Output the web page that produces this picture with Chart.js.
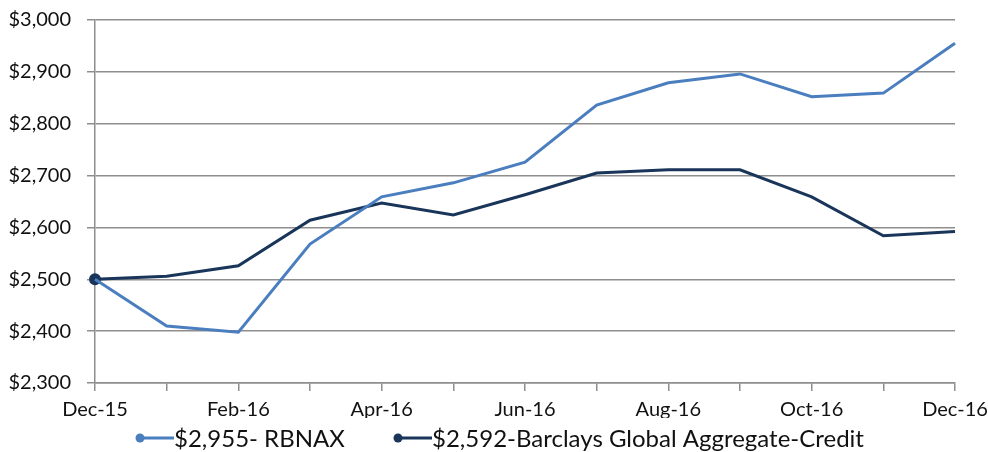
<!DOCTYPE html>
<html>
<head>
<meta charset="utf-8">
<script src="https://cdn.jsdelivr.net/npm/chart.js@4"></script>
<style>
  html, body { margin: 0; padding: 0; background: #fff; }
  #wrap { width: 988px; height: 452px; }
</style>
</head>
<body>
<div id="wrap"><canvas id="growthChart" width="988" height="452"></canvas></div>
<script>
const months = ['Dec-15', 'Jan-16', 'Feb-16', 'Mar-16', 'Apr-16', 'May-16', 'Jun-16',
  'Jul-16', 'Aug-16', 'Sep-16', 'Oct-16', 'Nov-16', 'Dec-16'];
const rbnax = [2500, 2410, 2398, 2568, 2659, 2686, 2726, 2836, 2879, 2896, 2852, 2859, 2955];
const barclays = [2500, 2506, 2526, 2614, 2647, 2624, 2663, 2705, 2711, 2711, 2659, 2584, 2592];
const seriesNames = ['$2,955- RBNAX', '$2,592-Barclays Global Aggregate-Credit'];
const seriesColors = ['#4a7ebf', '#1a355a'];

const FONT = 'Lato, "Open Sans", sans-serif';
const GRID = '#8e8e8e';

// legend drawn on the canvas: dot + short line + label
const lineLegend = {
  id: 'lineLegend',
  afterDraw(chart) {
    const ctx = chart.ctx;
    const y = 438;
    const starts = [137, 395];
    ctx.save();
    ctx.font = '24px ' + FONT;
    ctx.textBaseline = 'middle';
    chart.data.datasets.forEach((ds, i) => {
      const x = starts[i];
      ctx.strokeStyle = ds.borderColor;
      ctx.fillStyle = ds.borderColor;
      ctx.lineWidth = 3;
      ctx.beginPath();
      ctx.moveTo(x, y);
      ctx.lineTo(x + 37, y);
      ctx.stroke();
      ctx.beginPath();
      ctx.arc(x + 3, y, 4.5, 0, Math.PI * 2);
      ctx.fill();
      ctx.fillStyle = '#111';
      ctx.fillText(ds.label, x + 37, y + 1);
    });
    ctx.restore();
  }
};

new Chart(document.getElementById('growthChart').getContext('2d'), {
  type: 'line',
  data: {
    labels: months,
    datasets: [
      {
        label: seriesNames[0],
        data: rbnax,
        borderColor: seriesColors[0],
        backgroundColor: seriesColors[0],
        borderWidth: 3,
        pointRadius: 0,
        tension: 0,
        fill: false
      },
      {
        label: seriesNames[1],
        data: barclays,
        borderColor: seriesColors[1],
        backgroundColor: seriesColors[1],
        borderWidth: 3,
        pointRadius: months.map((m, i) => (i === 0 ? 4.5 : 0)),
        tension: 0,
        fill: false
      }
    ]
  },
  options: {
    responsive: false,
    animation: false,
    layout: { padding: { left: 0, right: 33, top: 20, bottom: 34 } },
    plugins: {
      legend: { display: false },
      tooltip: { enabled: false }
    },
    scales: {
      x: {
        offset: false,
        afterFit: s => { s.height = 35; s.paddingLeft = 0; s.paddingRight = 0; },
        grid: { drawOnChartArea: false, color: GRID, lineWidth: 1.5, tickLength: 8 },
        border: { color: GRID, width: 1.5 },
        ticks: {
          autoSkip: false,
          maxRotation: 0,
          color: '#111',
          font: { family: FONT, size: 20 },
          padding: 7,
          callback: (v, i) => (i % 2 === 0 ? months[i] : '')
        }
      },
      y: {
        min: 2300,
        max: 3000,
        afterFit: s => { s.width = 95; s.paddingTop = 0; s.paddingBottom = 0; },
        grid: { color: GRID, lineWidth: 1.5, tickLength: 8 },
        border: { color: GRID, width: 1.5 },
        ticks: {
          stepSize: 100,
          color: '#111',
          font: { family: FONT, size: 20 },
          padding: 16,
          callback: v => '$' + v.toLocaleString('en-US')
        }
      }
    }
  },
  plugins: [lineLegend]
});
</script>
</body>
</html>
